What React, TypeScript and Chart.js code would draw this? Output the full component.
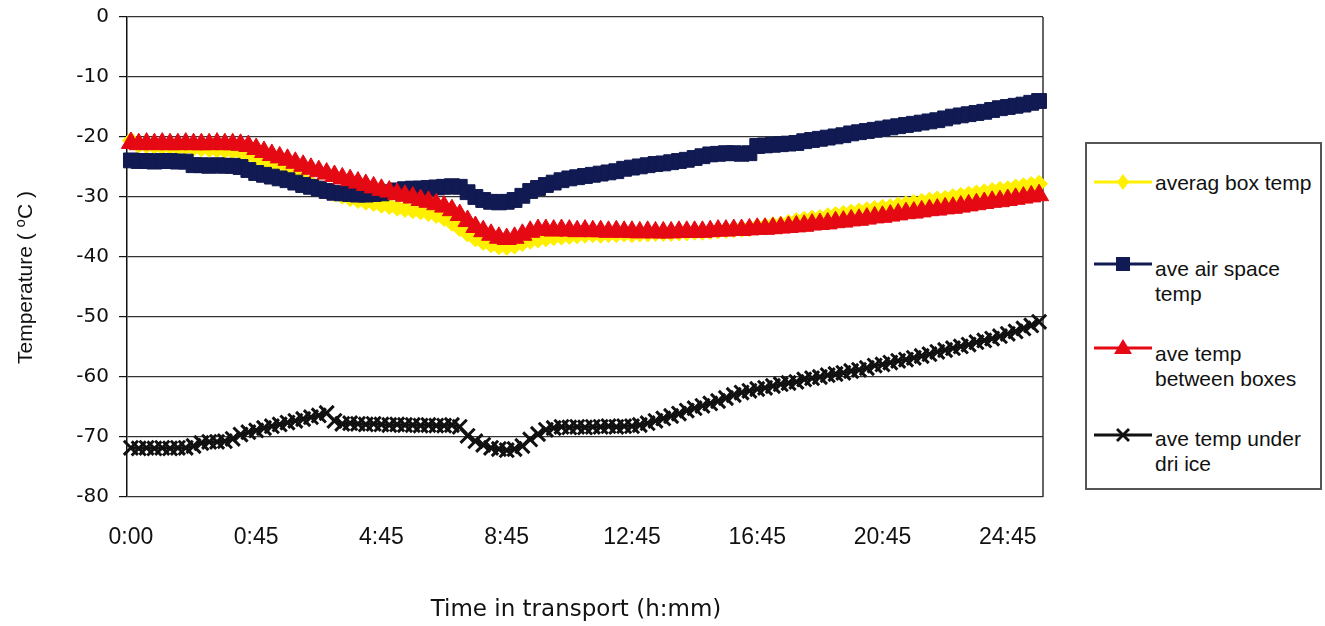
import React, { useEffect, useRef } from "react";
import { Chart, registerables } from "chart.js";

Chart.register(...registerables);

const SANS = "'Liberation Sans', Arial, Helvetica, sans-serif";
const WIDE_SANS = "'DejaVu Sans', Verdana, sans-serif";

// Logger read-out times: a few quick readings in the first 45 minutes, then every 15 minutes.
const earlyTimes = [
  "0:00", "0:03", "0:06", "0:08", "0:11", "0:14", "0:17", "0:20",
  "0:22", "0:25", "0:28", "0:31", "0:34", "0:37", "0:39", "0:42",
];
const quarterHourTimes = Array.from({ length: 101 }, (_, k) => {
  const m = 45 + 15 * k;
  return `${Math.floor(m / 60)}:${String(m % 60).padStart(2, "0")}`;
});
const times = [...earlyTimes, ...quarterHourTimes];

// Every 16th reading carries a label on the time axis.
const LABEL_EVERY = 16;

const seriesNames = [
  "averag box temp",
  "ave air space temp",
  "ave temp between boxes",
  "ave temp under dri ice",
];

const avgBoxTemp = [
  -20.6,
  -21.3, -21.4, -21.5, -21.6, -21.6, -21.7, -21.7, -21.8, -21.9,
  -22.0, -22.1, -22.2, -22.3, -22.5,
  -22.9, -23.4, -24.0, -24.6, -25.2, -25.8, -26.5, -27.1, -27.8, -28.4,
  -29.0, -29.4, -29.8, -30.2, -30.5, -30.8, -31.0, -31.3, -31.5, -31.8,
  -32.0, -32.2, -32.4, -32.7, -33.0, -33.5, -34.3,
  -35.2, -36.1, -36.9, -37.5, -37.9, -38.2, -38.3, -38.1, -37.7, -37.3,
  -37.1, -36.9, -36.7, -36.6,
  -36.5, -36.4, -36.3, -36.2, -36.3, -36.2, -36.2, -36.1, -36.2, -36.1,
  -36.1, -36.0, -36.0, -36.0, -35.9, -35.9, -35.8, -35.8,
  -35.7, -35.6, -35.5, -35.4, -35.3, -35.2, -35.0, -34.9, -34.7, -34.6,
  -34.3, -34.0, -33.8, -33.6, -33.5, -33.2, -33.0, -32.8, -32.6, -32.4,
  -32.2, -32.0, -31.8, -31.7, -31.4, -31.2, -31.0, -30.8, -30.6, -30.4,
  -30.3, -30.0, -29.8, -29.6, -29.4, -29.2, -29.0, -28.8, -28.7, -28.4,
  -28.2, -28.0, -27.8,
];

const airSpaceTemp = [
  -23.9, -24.0, -24.0, -24.1, -24.0, -24.0, -24.1, -24.1,
  -24.7, -24.7, -24.8, -24.7, -24.8, -24.8,
  -25.0, -25.5, -26.0, -26.3, -26.6, -26.9, -27.2, -27.6, -28.0, -28.3,
  -28.6, -29.0, -29.3, -29.4,
  -29.5, -29.6, -29.6, -29.5, -29.4, -29.2,
  -28.9, -28.7, -28.6, -28.6, -28.5, -28.4, -28.3, -28.2,
  -28.3, -29.2, -30.0, -30.5, -30.8, -30.9, -30.8, -30.5, -29.8, -29.0,
  -28.5, -28.0,
  -27.6, -27.2, -26.9, -26.7, -26.5, -26.3, -26.1, -25.9, -25.7, -25.3,
  -25.1, -24.9, -24.7, -24.5, -24.4, -24.2, -24.0, -23.8, -23.5,
  -23.2, -22.9, -22.8, -22.7, -22.7, -22.8, -22.7,
  -21.5, -21.4, -21.3, -21.2, -21.1, -21.0, -20.7, -20.5, -20.3, -20.1,
  -19.9, -19.7, -19.4, -19.2, -19.0, -18.8, -18.6, -18.4, -18.2, -18.0,
  -17.8, -17.6, -17.4, -17.2, -16.9, -16.6, -16.4, -16.2, -16.0, -15.8,
  -15.5, -15.2, -15.0, -14.8, -14.6, -14.3, -14.0,
];

const betweenBoxesTemp = [
  -21.0, -21.2, -21.1, -21.2, -21.1, -21.2, -21.2, -21.1, -21.2,
  -21.2, -21.2, -21.1, -21.2, -21.2, -21.3,
  -21.5, -22.0, -22.5, -23.0, -23.4, -23.8, -24.3, -24.8, -25.3, -25.7,
  -26.1, -26.5, -26.9, -27.2, -27.6, -28.0, -28.4, -28.8, -29.1, -29.5,
  -29.8, -30.1, -30.5, -30.8, -31.2, -31.6, -32.2, -33.0, -34.0, -35.0,
  -35.7, -36.3, -36.8, -37.0, -36.8, -36.3, -35.8, -35.5, -35.5,
  -35.6, -35.5, -35.6, -35.7, -35.6, -35.7, -35.7, -35.8, -35.7,
  -35.8, -35.8, -35.9, -35.8, -35.9, -35.9, -35.9, -35.8, -35.8, -35.8,
  -35.8,
  -35.7, -35.6, -35.6, -35.5, -35.5, -35.4, -35.3, -35.3, -35.2, -35.1,
  -35.0, -34.9, -34.8, -34.6, -34.5, -34.4, -34.2, -34.1, -33.9, -33.8,
  -33.6, -33.4, -33.3, -33.1, -32.9, -32.7, -32.6, -32.4, -32.2, -32.1,
  -31.9, -31.8, -31.6, -31.4, -31.2, -31.0, -30.8, -30.7, -30.5, -30.3,
  -30.1, -29.9, -29.7,
];

const underDryIceTemp = [
  -71.8, -71.9, -71.8, -71.9, -71.8, -71.9, -71.8, -71.8,
  -71.5, -71.0, -70.8, -70.8, -70.7, -70.3, -69.6, -69.2, -68.9, -68.5,
  -68.2, -67.9, -67.6, -67.3, -67.0, -66.7, -66.4, -66.0,
  -67.3, -67.8, -67.7, -67.8, -67.9, -67.8, -67.9, -68.0, -67.9, -68.0,
  -68.0, -68.1, -68.0, -68.1, -68.1, -68.0,
  -68.3, -69.8, -70.7, -71.3, -71.8, -72.0, -72.2, -72.0, -71.5, -70.4,
  -69.5, -68.8, -68.5,
  -68.3, -68.4, -68.3, -68.4, -68.3, -68.3, -68.2, -68.3, -68.2,
  -68.2, -68.0,
  -67.7, -67.3, -66.9, -66.5, -66.1, -65.6, -65.2, -64.8, -64.4, -64.0,
  -63.5, -63.0, -62.6, -62.3, -62.0, -61.8, -61.5, -61.2, -61.0, -60.8,
  -60.4, -60.2, -60.0, -59.7, -59.5, -59.3, -59.0, -58.8, -58.5, -58.1,
  -57.9, -57.6, -57.3, -57.1, -56.8, -56.5, -56.2, -55.8, -55.5, -55.2,
  -54.9, -54.6, -54.2, -53.9, -53.6, -53.2, -52.8, -52.4, -51.9, -51.4,
  -50.8,
];

const COLORS = {
  box: "#fff000",
  air: "#111a52",
  between: "#e50914",
  dryIce: "#111111",
};

// Right-hand edge of the plot frame.
const plotFrame = {
  id: "plotFrame",
  beforeDatasetsDraw(chart: any) {
    const { ctx, chartArea } = chart;
    ctx.save();
    ctx.strokeStyle = "#333";
    ctx.lineWidth = 1.5;
    ctx.beginPath();
    ctx.moveTo(chartArea.right, chartArea.top);
    ctx.lineTo(chartArea.right, chartArea.bottom);
    ctx.stroke();
    ctx.restore();
  },
};

type Marker = "diamond" | "square" | "triangle" | "cross";

function LegendSample({ color, marker }: { color: string; marker: Marker }) {
  const cx = 29;
  const cy = 10;
  let shape: React.ReactNode = null;
  if (marker === "diamond") {
    shape = <polygon points={`${cx},${cy - 8} ${cx + 6},${cy} ${cx},${cy + 8} ${cx - 6},${cy}`} fill={color} />;
  } else if (marker === "square") {
    shape = <rect x={cx - 7} y={cy - 7} width={14} height={14} fill={color} />;
  } else if (marker === "triangle") {
    shape = <polygon points={`${cx},${cy - 9} ${cx + 9},${cy + 6} ${cx - 9},${cy + 6}`} fill={color} />;
  } else {
    shape = (
      <g stroke={color} strokeWidth={2.8}>
        <line x1={cx - 6} y1={cy - 6} x2={cx + 6} y2={cy + 6} />
        <line x1={cx - 6} y1={cy + 6} x2={cx + 6} y2={cy - 6} />
      </g>
    );
  }
  return (
    <svg width={58} height={20} style={{ display: "block" }}>
      <line x1={0} y1={cy} x2={58} y2={cy} stroke={color} strokeWidth={3} />
      {shape}
    </svg>
  );
}

const legendItems: { lines: string[]; color: string; marker: Marker; lineY: number; textY: number }[] = [
  { lines: ["averag box temp"], color: COLORS.box, marker: "diamond", lineY: 182, textY: 182 },
  { lines: ["ave air space", "temp"], color: COLORS.air, marker: "square", lineY: 264, textY: 268 },
  { lines: ["ave temp", "between boxes"], color: COLORS.between, marker: "triangle", lineY: 348, textY: 353 },
  { lines: ["ave temp under", "dri ice"], color: COLORS.dryIce, marker: "cross", lineY: 435, textY: 438 },
];

export default function App() {
  const canvasRef = useRef<HTMLCanvasElement | null>(null);

  useEffect(() => {
    const canvas = canvasRef.current;
    if (!canvas) return;
    const chart = new Chart(canvas, {
      type: "line",
      data: {
        labels: times,
        datasets: [
          {
            label: seriesNames[0],
            data: avgBoxTemp,
            borderColor: COLORS.box,
            backgroundColor: COLORS.box,
            borderWidth: 3,
            pointStyle: "rectRot",
            pointRadius: 8.5,
            pointBorderWidth: 1,
            pointBackgroundColor: COLORS.box,
            pointBorderColor: COLORS.box,
            order: 3,
            clip: false,
          },
          {
            label: seriesNames[1],
            data: airSpaceTemp,
            borderColor: COLORS.air,
            backgroundColor: COLORS.air,
            borderWidth: 3,
            pointStyle: "rect",
            pointRadius: 10.5,
            pointBorderWidth: 1,
            pointBackgroundColor: COLORS.air,
            pointBorderColor: COLORS.air,
            order: 2,
            clip: false,
          },
          {
            label: seriesNames[2],
            data: betweenBoxesTemp,
            borderColor: COLORS.between,
            backgroundColor: COLORS.between,
            borderWidth: 3,
            pointStyle: "triangle",
            pointRadius: 11,
            pointBorderWidth: 1,
            pointBackgroundColor: COLORS.between,
            pointBorderColor: COLORS.between,
            order: 1,
            clip: false,
          },
          {
            label: seriesNames[3],
            data: underDryIceTemp,
            borderColor: COLORS.dryIce,
            backgroundColor: COLORS.dryIce,
            borderWidth: 3,
            pointStyle: "crossRot",
            pointRadius: 10,
            pointBorderWidth: 3,
            pointBackgroundColor: COLORS.dryIce,
            pointBorderColor: COLORS.dryIce,
            order: 0,
            clip: false,
          },
        ],
      },
      options: {
        responsive: false,
        animation: false,
        devicePixelRatio: 1,
        layout: { padding: { left: 0, top: 17, right: 282, bottom: 0 } },
        elements: { line: { tension: 0 } },
        plugins: {
          legend: { display: false },
          tooltip: { enabled: false },
        },
        scales: {
          x: {
            type: "category",
            offset: true,
            grid: { display: false, drawTicks: false },
            border: { display: false },
            ticks: {
              autoSkip: false,
              maxRotation: 0,
              minRotation: 0,
              padding: 27,
              color: "#111",
              font: { family: SANS, size: 23 },
              callback: function (this: any, value: any, index: number) {
                return index % LABEL_EVERY === 0 ? this.getLabelForValue(value) : "";
              },
            },
            afterFit: (scale: any) => {
              scale.height = 129;
              scale.paddingLeft = 0;
              scale.paddingRight = 0;
            },
          },
          y: {
            min: -80,
            max: 0,
            ticks: {
              stepSize: 10,
              padding: 10,
              color: "#111",
              font: { family: WIDE_SANS, size: 20 },
            },
            grid: {
              color: "#333",
              lineWidth: 1.2,
              drawTicks: true,
              tickLength: 8,
              tickColor: "#111",
            },
            border: { display: true, color: "#111", width: 1.5 },
            afterFit: (scale: any) => {
              scale.width = 127;
              scale.paddingTop = 0;
              scale.paddingBottom = 0;
            },
          },
        },
      },
      plugins: [plotFrame],
    });
    return () => chart.destroy();
  }, []);

  return (
    <div style={{ position: "absolute", left: 0, top: 0, width: 1325, height: 626, background: "#fff", fontFamily: SANS, color: "#111" }}>
      <canvas ref={canvasRef} width={1325} height={626} style={{ position: "absolute", left: 0, top: 0 }} />
      {/* Axis titles */}
      <div
        style={{
          position: "absolute",
          left: 12,
          top: 364,
          transform: "rotate(-90deg)",
          transformOrigin: "0 0",
          fontSize: 21,
          lineHeight: "26px",
          whiteSpace: "nowrap",
        }}
      >
        Temperature ( <sup style={{ fontSize: 15, verticalAlign: "7px", lineHeight: 0 }}>o</sup>C )
      </div>
      <div
        style={{
          position: "absolute",
          left: 576,
          top: 608,
          transform: "translate(-50%, -50%)",
          fontFamily: WIDE_SANS,
          fontSize: 23,
          lineHeight: "28px",
          whiteSpace: "nowrap",
        }}
      >
        Time in transport (h:mm)
      </div>
      {/* Legend */}
      <div
        style={{
          position: "absolute",
          left: 1085,
          top: 142,
          width: 237,
          height: 348,
          boxSizing: "border-box",
          border: "2px solid #555",
          background: "#fff",
        }}
      />
      {legendItems.map((item) => (
        <React.Fragment key={item.lines.join(" ")}>
          <div style={{ position: "absolute", left: 1094, top: item.lineY - 10 }}>
            <LegendSample color={item.color} marker={item.marker} />
          </div>
          <div
            style={{
              position: "absolute",
              left: 1155,
              top: item.textY - 12.5,
              fontSize: 21,
              lineHeight: "25px",
              whiteSpace: "nowrap",
            }}
          >
            {item.lines.map((l) => (
              <div key={l}>{l}</div>
            ))}
          </div>
        </React.Fragment>
      ))}
    </div>
  );
}
